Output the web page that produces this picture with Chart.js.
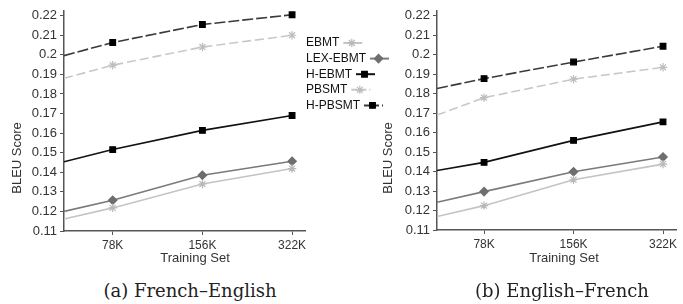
<!DOCTYPE html>
<html>
<head>
<meta charset="utf-8">
<script src="https://cdn.jsdelivr.net/npm/chart.js@4/dist/chart.umd.min.js"></script>
<style>
  body { margin: 0; background: #fff; width: 683px; height: 304px; position: relative; overflow: hidden; }
  canvas { position: absolute; top: 0; }
  #chartLeft { left: 0; }
  #chartRight { left: 380px; }
  .caption {
    position: absolute; top: 280px; transform: translateX(-50%);
    font-family: "DejaVu Serif", serif; font-size: 18px; color: #222; white-space: nowrap;
  }
</style>
</head>
<body>
<canvas id="chartLeft" width="400" height="275" style="width:400px;height:275px"></canvas>
<canvas id="chartRight" width="303" height="275" style="width:303px;height:275px"></canvas>
<div class="caption" style="left:190px">(a) French–English</div>
<div class="caption" style="left:562px">(b) English–French</div>
<script>
const categories = ["78K", "156K", "322K"];
const seriesNames = ["EBMT", "LEX-EBMT", "H-EBMT", "PBSMT", "H-PBSMT"];
const yTicks = [0.11, 0.12, 0.13, 0.14, 0.15, 0.16, 0.17, 0.18, 0.19, 0.2, 0.21, 0.22];

// first value of each list is where the line meets the y axis
const frEnEBMT = [0.1161, 0.1218, 0.134, 0.1419];
const frEnLexEBMT = [0.12, 0.1257, 0.1385, 0.1456];
const frEnHEBMT = [0.1454, 0.1516, 0.1614, 0.169];
const frEnPBSMT = [0.188, 0.1947, 0.204, 0.21];
const frEnHPBSMT = [0.1996, 0.2063, 0.2155, 0.2205];

const enFrEBMT = [0.1169, 0.1225, 0.1358, 0.1438];
const enFrLexEBMT = [0.1242, 0.1297, 0.1399, 0.1475];
const enFrHEBMT = [0.1405, 0.1447, 0.156, 0.1655];
const enFrPBSMT = [0.169, 0.1779, 0.1874, 0.1935];
const enFrHPBSMT = [0.1826, 0.1877, 0.1962, 0.2043];

const styles = [
  { line: "#c4c4c4", point: "#b8b8b8", marker: "star", radius: 4.2, dash: [] },
  { line: "#7a7a7a", point: "#6e6e6e", marker: "rectRot", radius: 4.2, dash: [] },
  { line: "#111111", point: "#000000", marker: "rect", radius: 4, dash: [] },
  { line: "#c8c8c8", point: "#bdbdbd", marker: "star", radius: 4.2, dash: [9, 4] },
  { line: "#3a3a3a", point: "#000000", marker: "rect", radius: 4, dash: [11, 3] },
];

const axisColor = "#555";
const textColor = "#333";
const sansFont = "'Liberation Sans', Arial, sans-serif";

const makeDatasets = function (lists, xMin) {
  return lists.map((values, i) => {
    const s = styles[i];
    return {
      label: seriesNames[i],
      data: values.map((v, j) => ({ x: j === 0 ? xMin : j, y: v })),
      borderColor: s.line,
      borderWidth: 1.6,
      borderDash: s.dash,
      pointStyle: s.marker,
      pointRadius: values.map((v, j) => (j === 0 ? 0 : s.radius)),
      pointBackgroundColor: s.point,
      pointBorderColor: s.point,
      pointBorderWidth: 1.2,
      tension: 0,
    };
  });
};

const drawMarker = function (ctx, s, x, y) {
  ctx.save();
  ctx.setLineDash([]);
  ctx.fillStyle = s.point;
  ctx.strokeStyle = s.point;
  ctx.lineWidth = 1.2;
  Chart.helpers.drawPoint(ctx, { pointStyle: s.marker, radius: s.radius, rotation: 0, borderWidth: 1.2 }, x, y);
  ctx.restore();
};

// axis titles placed where the reference has them
const titlesPlugin = {
  id: "axisTitles",
  afterDraw(chart, args, opts) {
    const ctx = chart.ctx;
    ctx.save();
    ctx.fillStyle = textColor;
    ctx.font = "13px " + sansFont;
    ctx.textAlign = "center";
    ctx.textBaseline = "middle";
    ctx.fillText("Training Set", opts.xTitleX, 258);
    ctx.translate(opts.yTitleX, 158);
    ctx.rotate(-Math.PI / 2);
    ctx.fillText("BLEU Score", 0, 0);
    ctx.restore();
  },
};

const legendPlugin = {
  id: "sideLegend",
  afterDraw(chart, args, opts) {
    if (!opts.show) return;
    const ctx = chart.ctx;
    ctx.save();
    ctx.font = "12px " + sansFont;
    ctx.textBaseline = "middle";
    ctx.fillStyle = "#111";
    seriesNames.forEach((name, i) => {
      const s = styles[i];
      const y = 43 + i * 15.6;
      ctx.fillText(name, 306, y);
      const x0 = 306 + ctx.measureText(name).width + 4;
      const x1 = x0 + 19;
      ctx.save();
      ctx.strokeStyle = s.line;
      ctx.lineWidth = 2;
      ctx.setLineDash(s.dash.length ? [6, 3] : []);
      ctx.beginPath();
      ctx.moveTo(x0, y);
      ctx.lineTo(x1, y);
      ctx.stroke();
      ctx.restore();
      drawMarker(ctx, s, (x0 + x1) / 2 - 1, y);
    });
    ctx.restore();
  },
};

const makeChart = function (canvasId, lists, cfg) {
  const ctx = document.querySelector(canvasId).getContext("2d");
  return new Chart(ctx, {
    type: "line",
    data: { datasets: makeDatasets(lists, cfg.xMin) },
    options: {
      responsive: false,
      animation: false,
      devicePixelRatio: 1,
      layout: { padding: { left: 0, top: 10, right: cfg.padRight, bottom: 0 } },
      plugins: {
        legend: { display: false },
        tooltip: { enabled: false },
        axisTitles: { xTitleX: cfg.xTitleX, yTitleX: cfg.yTitleX },
        sideLegend: { show: cfg.legend },
      },
      scales: {
        x: {
          type: "linear",
          min: cfg.xMin,
          max: cfg.xMax,
          afterBuildTicks: (scale) => {
            scale.ticks = categories.map((c, i) => ({ value: i + 1 }));
          },
          afterFit: (scale) => {
            scale.height = cfg.xHeight;
          },
          ticks: {
            callback: (v) => categories[Math.round(v) - 1],
            color: textColor,
            font: { family: sansFont, size: 12 },
            padding: 3,
            maxRotation: 0,
            autoSkip: false,
          },
          grid: { drawOnChartArea: false, drawTicks: true, tickLength: 4, color: axisColor },
          border: { color: axisColor, width: 1.5 },
        },
        y: {
          min: 0.11,
          max: 0.2225,
          afterBuildTicks: (scale) => {
            scale.ticks = yTicks.map((v) => ({ value: v }));
          },
          afterFit: (scale) => {
            scale.width = cfg.yWidth;
          },
          ticks: {
            callback: (v) => String(v),
            color: textColor,
            font: { family: sansFont, size: 13 },
            padding: 3,
            autoSkip: false,
          },
          grid: { drawOnChartArea: false, drawTicks: true, tickLength: 4, color: axisColor },
          border: { color: axisColor, width: 1.5 },
        },
      },
    },
    plugins: [titlesPlugin, legendPlugin],
  });
};

makeChart("#chartLeft", [frEnEBMT, frEnLexEBMT, frEnHEBMT, frEnPBSMT, frEnHPBSMT], {
  xMin: 0.457, xMax: 3.144, yWidth: 64, xHeight: 44, padRight: 95,
  xTitleX: 195, yTitleX: 17, legend: true,
});

makeChart("#chartRight", [enFrEBMT, enFrLexEBMT, enFrHEBMT, enFrPBSMT, enFrHPBSMT], {
  xMin: 0.474, xMax: 3.145, yWidth: 57, xHeight: 45, padRight: 7,
  xTitleX: 184, yTitleX: 8, legend: false,
});
</script>
</body>
</html>
